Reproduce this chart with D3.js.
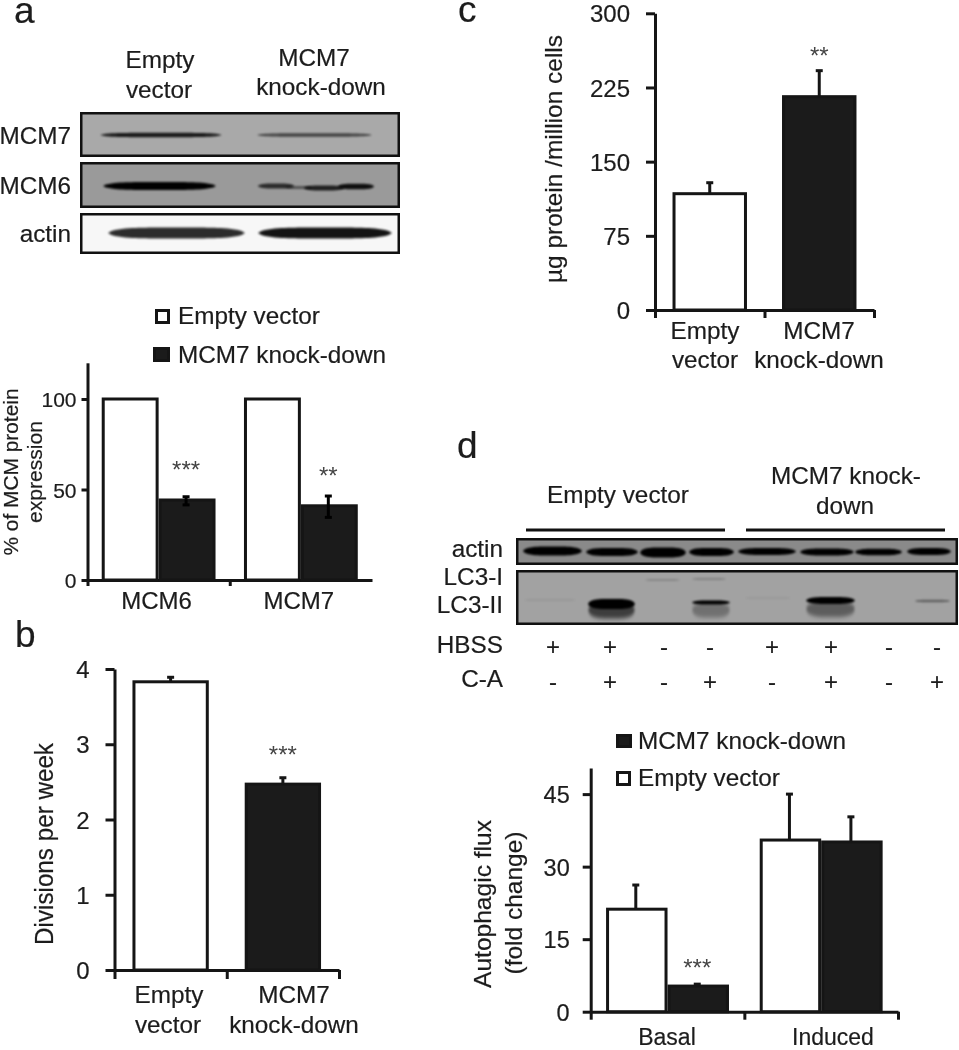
<!DOCTYPE html>
<html><head><meta charset="utf-8">
<script src="https://cdnjs.cloudflare.com/ajax/libs/d3/7.8.5/d3.min.js"></script>
<style>
html,body{margin:0;padding:0;background:#fff}
svg{display:block;filter:blur(0.45px)}
text{font-family:"Liberation Sans",Arial,sans-serif;fill:#1c1c1c;stroke:#1c1c1c;stroke-width:.2px}
</style></head><body><svg id="c" width="959" height="1050"></svg>
<script>
// ---- chart data ----
const seriesNames = ["Empty vector", "MCM7 knock-down"];
const aCats = ["MCM6", "MCM7"];
const aEmpty = [100, 100];
const aKd = [44.2, 41];
const aKdLo = [41.5, 34.6];
const aKdHi = [46, 46.4];
const aStars = ["***", "**"];
const aTicks = [0, 50, 100];

const bCats = [["Empty", "vector"], ["MCM7", "knock-down"]];
const bVals = [3.83, 2.47];
const bHi = [3.89, 2.555];
const bStars = ["", "***"];
const bTicks = [0, 1, 2, 3, 4];

const cVals = [117.6, 215.7];
const cHi = [128.7, 242];
const cStars = ["", "**"];
const cTicks = [0, 75, 150, 225, 300];

const dCats = ["Basal", "Induced"];
const dEmpty = [21.2, 35.5];
const dEmptyHi = [26.2, 45];
const dKd = [5.3, 35.1];
const dKdHi = [5.7, 40.3];
const dStars = ["***", ""];
const dTicks = [0, 15, 30, 45];

// ---- blot read-outs, gel units along each membrane: [from, to, thickness, darkness, centre] ----
const blotMcm7 = [[20,142,4.5,.85,23],[177,292,3.6,.6,23]];
const blotMcm6 = [[23,136,8,1,24],[178,214,5,.72,24],[205,232,3,.45,25.5],[224,264,5,.8,26],[258,294,5.5,.9,24.5]];
const blotActinA = [[28,165,11,.82,20],[178,312,11,.92,20]];
const blotActinD = [[7,66,9,1,13],[70,122,8,1,14],[124,170,10,1,14.5],[173,218,8,1,14],[222,280,7,1,13.5],[284,338,7,1,14],[339,386,6.5,1,14],[391,435,7,1,13.5]];
const blotLc3 = [[72,119,10,1,34],[72,119,17,.62,40],[176,214,4,1,32.5],[176,214,15,.3,40],[290,339,7,1,30.5],[290,339,16,.42,39],
  [399,434,2.5,.4,31],[129,164,1.6,.22,10],[176,210,1.6,.25,9],[8,60,1.2,.12,30],[229,275,1.2,.1,28]];
const laneGel = [37, 94, 148, 194, 256, 315, 373, 421];
const hbssRow = ["+", "+", "-", "-", "+", "+", "-", "-"];
const caRow = ["-", "+", "-", "+", "-", "+", "-", "+"];

// ---- helpers ----
const svg = d3.select("#c");
const ink = "#151515", barBlack = "#1b1b1b";
const fs = 24.3;
const defs = svg.append("defs");
defs.append("filter").attr("id", "soft").attr("x", "-20%").attr("y", "-200%").attr("width", "140%").attr("height", "500%")
  .append("feGaussianBlur").attr("stdDeviation", "1.1 1");
defs.append("filter").attr("id", "softer").attr("x", "-20%").attr("y", "-200%").attr("width", "140%").attr("height", "500%")
  .append("feGaussianBlur").attr("stdDeviation", "1.2 2");

function label(x, y, s, size, anchor) {
  return svg.append("text").attr("x", x).attr("y", y).attr("font-size", size)
    .attr("text-anchor", anchor || "middle").text(s);
}
function vlabel(x, y, s, size, len) {
  return svg.append("text").attr("transform", `translate(${x},${y}) rotate(-90)`)
    .attr("font-size", size).attr("text-anchor", "middle")
    .attr("textLength", len).attr("lengthAdjust", "spacingAndGlyphs").text(s);
}
function legend(x, y, w, h, fill, tx, by, s) {
  svg.append("rect").attr("x", x + 1.5).attr("y", y + 1.5).attr("width", w - 3).attr("height", h - 3)
    .attr("fill", fill).attr("stroke", ink).attr("stroke-width", 3);
  label(tx, by, s, fs, "start");
}
function axes(o) {
  const y = d3.scaleLinear().domain(o.yDomain).range([o.y0, o.yTop]);
  const gy = svg.append("g").attr("transform", `translate(${o.x0},0)`)
    .call(d3.axisLeft(y).tickValues(o.ticks).tickFormat(d3.format("d")).tickSize(o.tickLen).tickSizeOuter(0).tickPadding(o.pad));
  const ux = d3.scaleLinear().domain([0, o.n]).range([o.x0, o.x1]);
  const gx = svg.append("g").attr("transform", `translate(0,${o.y0})`)
    .call(d3.axisBottom(ux).tickValues(o.xTicks).tickFormat("").tickSize(o.xTickLen).tickSizeOuter(0));
  for (const g of [gy, gx]) {
    g.select(".domain").attr("stroke", ink).attr("stroke-width", 3);
    g.selectAll("line").attr("stroke", ink).attr("stroke-width", 3);
  }
  gy.selectAll("text").attr("font-size", o.size).attr("font-family", '"Liberation Sans"').attr("fill", "#1c1c1c").attr("dy", o.dy || "0.36em");
  return y;
}
function bars(xs, bw, vals, y, fill) {
  svg.append("g").selectAll("rect").data(vals).join("rect")
    .attr("x", (d, i) => xs[i] + 1.5).attr("width", bw - 3)
    .attr("y", d => y(d)).attr("height", d => y(0) - y(d))
    .attr("fill", fill).attr("stroke", ink).attr("stroke-width", 3);
}
function errs(xs, lo, hi, y, cap, lowCap) {
  const g = svg.append("g").attr("stroke", lowCap ? "#000" : ink).attr("stroke-width", 3);
  hi.forEach((h, i) => {
    g.append("line").attr("x1", xs[i]).attr("x2", xs[i]).attr("y1", y(lo[i])).attr("y2", y(h));
    g.append("line").attr("x1", xs[i] - cap).attr("x2", xs[i] + cap).attr("y1", y(h)).attr("y2", y(h));
    if (lowCap) g.append("line").attr("x1", xs[i] - cap).attr("x2", xs[i] + cap).attr("y1", y(lo[i])).attr("y2", y(lo[i]));
  });
}
function stars(xs, hi, y, strs, gaps) {
  strs.forEach((s, i) => {
    if (s) svg.append("text").attr("x", xs[i]).attr("y", y(hi[i]) - gaps[i]).attr("text-anchor", "middle")
      .attr("font-size", 24).style("fill", "#444").style("stroke", "none").text(s);
  });
}
function gel(x, y0, w, h, fill, bandsList) {
  const gx = d3.scaleLinear().domain([0, w]).range([x, x + w]);
  const gy = d3.scaleLinear().domain([0, h]).range([y0, y0 + h]);
  const clip = "g" + x + "_" + y0;
  defs.append("clipPath").attr("id", clip).append("rect").attr("x", x).attr("y", y0).attr("width", w).attr("height", h);
  svg.append("rect").attr("x", x).attr("y", y0).attr("width", w).attr("height", h).attr("fill", fill);
  const g = svg.append("g").attr("clip-path", `url(#${clip})`);
  const ts = d3.range(-1, 1.0001, 0.05);
  bandsList.forEach(([a, b, th, dk, cy]) => {
    const area = d3.area()
      .x(t => gx(a + (t + 1) / 2 * (b - a)))
      .y0(t => gy(cy) - th / 2 * Math.pow(1 - t * t * t * t, 0.6))
      .y1(t => gy(cy) + th / 2 * Math.pow(1 - t * t * t * t, 0.6));
    g.append("path").attr("d", area(ts)).attr("fill", "#050505").attr("opacity", dk)
      .attr("filter", th > 12 ? "url(#softer)" : "url(#soft)");
  });
  svg.append("rect").attr("x", x + 1.25).attr("y", y0 + 1.25).attr("width", w - 2.5).attr("height", h - 2.5)
    .attr("fill", "none").attr("stroke", "#111").attr("stroke-width", 2.5);
}

// ---- panel letters ----
label(14, 23, "a", 37, "start");
label(15, 647, "b", 37, "start");
label(458, 22, "c", 37, "start");
label(457, 458, "d", 37, "start");

// ---- panel a: blots ----
label(160, 68, "Empty", fs); label(159, 98, "vector", fs);
label(314, 66, "MCM7", fs); label(321, 95, "knock-down", fs);
gel(80, 112, 320, 45, "#a9a9a9", blotMcm7);
gel(80, 162, 320, 46, "#9a9a9a", blotMcm6);
gel(80, 213, 320, 41, "#f7f7f7", blotActinA);
label(71, 144, "MCM7", fs, "end");
label(71, 194, "MCM6", fs, "end");
label(71, 242, "actin", fs, "end");

// ---- panel a: chart ----
legend(155, 309, 15, 15, "#fff", 178, 324, seriesNames[0]);
legend(153, 347, 17, 15, barBlack, 178, 363, seriesNames[1]);
{
  const y = axes({yDomain: [0, 120], y0: 580, yTop: 362.8, x0: 87.5, x1: 372, n: 2, ticks: aTicks, xTicks: [0, 1],
    tickLen: 6, xTickLen: 6, pad: 5, size: 21});
  const g = d3.scaleBand().domain(aCats).range([87.5, 372]).paddingInner(0.2).paddingOuter(0.1);
  const bw = g.bandwidth() / 2;
  const xE = aCats.map(c => g(c)), xK = aCats.map(c => g(c) + bw);
  bars(xE, bw, aEmpty, y, "#fff");
  bars(xK, bw, aKd, y, barBlack);
  const cx = xK.map(v => v + bw / 2 - 1);
  errs(cx, aKdLo, aKdHi, y, 3.5, true);
  stars(cx, aKdHi, y, aStars, [19, 12]);
  aCats.forEach(c => label(g(c) + g.bandwidth() / 2 - 2, 609, c, 24));
  vlabel(18, 472, "% of MCM protein", 19.5, 167);
  vlabel(42, 472, "expression", 21, 102);
}

// ---- panel b ----
{
  const y = axes({yDomain: [0, 4], y0: 970, yTop: 669, x0: 114.5, x1: 339, n: 2, ticks: bTicks, xTicks: [0, 1, 2],
    tickLen: 9, xTickLen: 9, pad: 16, size: 24});
  const g = d3.scaleBand().domain([0, 1]).range([114.5, 339]).paddingInner(0.32).paddingOuter(0.16);
  const xs = [g(0), g(1)];
  bars([xs[0]], g.bandwidth(), [bVals[0]], y, "#fff");
  bars([xs[1]], g.bandwidth(), [bVals[1]], y, barBlack);
  const cx = xs.map(v => v + g.bandwidth() / 2);
  errs(cx, bVals, bHi, y, 3.5);
  stars(cx, bHi, y, bStars, [0, 15]);
  label(169, 1003, bCats[0][0], fs); label(168, 1033, bCats[0][1], fs);
  label(294, 1003, bCats[1][0], fs); label(294, 1033, bCats[1][1], fs);
  vlabel(53, 844, "Divisions per week", 25, 202);
}

// ---- panel c ----
{
  const y = axes({yDomain: [0, 300], y0: 310, yTop: 13.3, x0: 655, x1: 874, n: 2, ticks: cTicks, xTicks: [0, 1, 2],
    tickLen: 9, xTickLen: 8, pad: 16, size: 24});
  const g = d3.scaleBand().domain([0, 1]).range([655, 874]).paddingInner(0.32).paddingOuter(0.16);
  const xs = [g(0), g(1)];
  bars([xs[0]], g.bandwidth(), [cVals[0]], y, "#fff");
  bars([xs[1]], g.bandwidth(), [cVals[1]], y, barBlack);
  const cx = xs.map(v => v + g.bandwidth() / 2);
  errs(cx, cVals, cHi, y, 3.5);
  stars(cx, cHi, y, cStars, [0, 7]);
  label(705, 339, bCats[0][0], fs); label(705, 368, bCats[0][1], fs);
  label(819, 339, bCats[1][0], fs); label(819, 368, bCats[1][1], fs);
  vlabel(562, 159, "µg protein /million cells", 24, 248);
}

// ---- panel d: blots ----
label(618, 503, "Empty vector", fs);
label(846, 484, "MCM7 knock-", fs);
label(845, 514, "down", fs);
const lane = d3.scaleLinear().domain([0, 442]).range([516, 958]);
svg.append("g").selectAll("line").data([[10, 209], [230, 429]]).join("line")
  .attr("x1", d => lane(d[0])).attr("x2", d => lane(d[1])).attr("y1", 530).attr("y2", 530)
  .attr("stroke", "#111").attr("stroke-width", 3);
gel(516, 538, 442, 27, "#8a8a8a", blotActinD);
gel(516, 570, 442, 55, "#a2a2a2", blotLc3);
label(503, 557, "actin", fs, "end");
label(503, 585, "LC3-I", fs, "end");
label(503, 613, "LC3-II", fs, "end");
label(503, 653, "HBSS", fs, "end");
label(503, 687, "C-A", fs, "end");
hbssRow.forEach((s, i) => label(lane(laneGel[i]), 655, s, 24));
caRow.forEach((s, i) => label(lane(laneGel[i]), 690, s, 24));

// ---- panel d: chart ----
legend(616, 734, 16, 14, barBlack, 638, 749, seriesNames[1]);
legend(616, 771, 15, 15, "#fff", 638, 786, seriesNames[0]);
{
  const y = axes({yDomain: [0, 50.4], y0: 1011.7, yTop: 768, x0: 590.7, x1: 898, n: 2, ticks: dTicks, xTicks: [0, 1, 2],
    tickLen: 8, xTickLen: 8, pad: 13, size: 23.5});
  const g = d3.scaleBand().domain(dCats).range([590.7, 898]).paddingInner(0.2).paddingOuter(0.1);
  const bw = g.bandwidth() / 2;
  const xE = dCats.map(c => g(c)), xK = dCats.map(c => g(c) + bw);
  bars(xE, bw, dEmpty, y, "#fff");
  bars(xK, bw, dKd, y, barBlack);
  const cE = xE.map(v => v + bw / 2 - 1), cK = xK.map(v => v + bw / 2 - 1);
  errs(cE, dEmpty, dEmptyHi, y, 3.5);
  errs(cK, dKd, dKdHi, y, 3.5);
  stars(cK, dKdHi, y, dStars, [8, 0]);
  label(667, 1045, dCats[0], 23);
  label(833, 1045, dCats[1], 23);
  vlabel(491, 904, "Autophagic flux", 24, 168);
  vlabel(522, 903, "(fold change)", 24, 143);
}
</script></body></html>
